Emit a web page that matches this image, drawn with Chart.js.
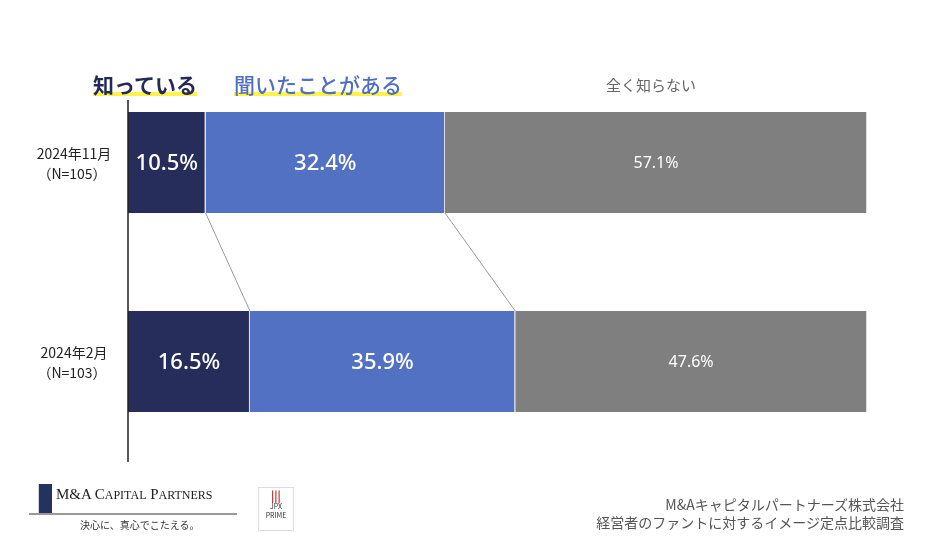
<!DOCTYPE html>
<html><head><meta charset="utf-8">
<script src="https://cdn.jsdelivr.net/npm/chart.js@4"></script>
<style>
body{margin:0;width:930px;height:546px;background:#fff;font-family:"Noto Sans CJK JP","Noto Sans",sans-serif;position:relative;overflow:hidden}
#c{position:absolute;left:0;top:0}
.lg{position:absolute;top:71px;font-size:21px;font-weight:bold;line-height:27px}
.ul{background:linear-gradient(transparent 78%,#fff34a 78%,#fff34a 92%,transparent 92%)}
.t{position:absolute;color:#555;font-size:14px;text-align:right;line-height:18px}
</style></head><body>
<canvas id="c" width="930" height="546"></canvas>
<div class="lg ul" style="left:93px;color:#222a55">知っている</div>
<div class="lg ul" style="left:234px;color:#4f6fc4;font-weight:500">聞いたことがある</div>
<div class="lg" style="left:606px;color:#666;font-size:15px;font-weight:normal">全く知らない</div>
<div style="position:absolute;left:30px;top:484px;width:22px;height:30px;background:#23325f;clip-path:polygon(40% 0,100% 0,100% 100%,40% 100%)"></div>
<div style="position:absolute;top:486px;font-family:'Liberation Serif';font-size:15px;color:#222;left:56px">M&amp;A C<span style="font-size:12px">APITAL</span> P<span style="font-size:12px">ARTNERS</span></div>
<div style="position:absolute;left:29px;top:513px;width:208px;height:2px;background:#999"></div>
<div style="position:absolute;left:80px;top:517px;font-size:10px;color:#333">決心に、真心でこたえる。</div>
<div style="position:absolute;left:258px;top:487px;width:34px;height:42px;border:1px solid #ddd;font-size:7px;text-align:center;color:#333;line-height:9px"><div style="color:#c0282d;font-weight:bold;font-size:11px;line-height:14px">|||</div>JPX<br>PRIME</div>
<div class="t" style="right:26px;top:495px">M&amp;Aキャピタルパートナーズ株式会社<br>経営者のファントに対するイメージ定点比較調査</div>
<script>
const categories=["2024年11月\n（N=105）","2024年2月\n（N=103）"];
const seriesNames=["知っている","聞いたことがある","全く知らない"];
const know=[10.5,16.5];
const heard=[32.4,35.9];
const notKnow=[57.1,47.6];
const colors=["#272d5a","#5271c2","#7f7f7f"];
const plug={id:'p',afterDatasetsDraw(ch){
 const c=ch.ctx,x=ch.scales.x,y=ch.scales.y;
 c.save();
 c.strokeStyle='#222';c.lineWidth=1.5;c.beginPath();c.moveTo(128,100);c.lineTo(128,462);c.stroke();
 const m0=ch.getDatasetMeta(0).data,m1=ch.getDatasetMeta(1).data;
 c.strokeStyle='#999';c.lineWidth=1;
 [m0,m1].forEach(m=>{const a=m[0],b=m[1];c.beginPath();c.moveTo(a.x,a.y+a.height/2);c.lineTo(b.x,b.y-b.height/2);c.stroke();});
 c.fillStyle='#fff';c.textAlign='center';c.textBaseline='middle';
 ch.data.datasets.forEach((d,i)=>{ch.getDatasetMeta(i).data.forEach((e,j)=>{
  c.font=(i==2?'16px':'500 22px')+' "Noto Sans","DejaVu Sans",sans-serif';
  const l=e.base,r=e.x;c.fillText(d.data[j].toFixed(1)+'%',(l+r)/2,e.y+1);});});
 c.fillStyle='#222';c.font='14px "Noto Sans CJK JP"';
 categories.forEach((t,j)=>{const yy=y.getPixelForValue(j);const ls=t.split('\n');
  c.fillText(ls[0],74,yy-9);c.fillText(ls[1],72,yy+11);});
 c.restore();}};
new Chart(document.getElementById('c'),{type:'bar',
 data:{labels:categories,datasets:[know,heard,notKnow].map((d,i)=>({label:seriesNames[i],data:d,backgroundColor:colors[i],borderColor:'#ddd',borderWidth:{right:1},borderSkipped:false,barPercentage:0.508,categoryPercentage:1}))},
 options:{indexAxis:'y',responsive:false,animation:false,events:[],
  layout:{padding:{left:128,right:63,top:63,bottom:85}},
  plugins:{legend:{display:false},tooltip:{enabled:false}},
  scales:{x:{stacked:true,min:0,max:100,display:false},y:{stacked:true,display:false}}},
 plugins:[plug]});
</script></body></html>
